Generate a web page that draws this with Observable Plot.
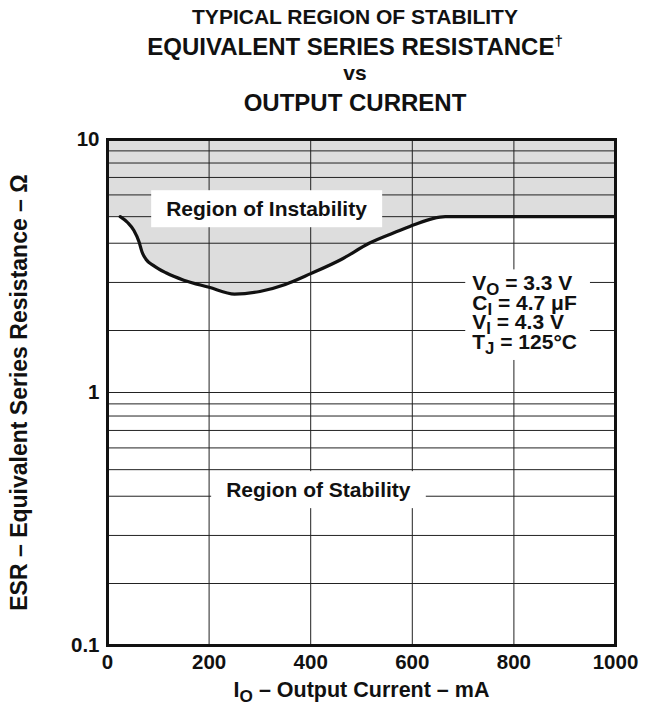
<!DOCTYPE html>
<html>
<head>
<meta charset="utf-8">
<script src="https://cdn.jsdelivr.net/npm/d3@7"></script>
<script src="https://cdn.jsdelivr.net/npm/@observablehq/plot@0.6"></script>
<style>
  html, body { margin: 0; padding: 0; background: #fff; }
  #wrap { position: relative; width: 648px; height: 717px; font-family: "Liberation Sans", Arial, sans-serif; color: #111; }
  .t { position: absolute; left: 0; width: 710px; text-align: center; font-weight: bold; white-space: nowrap; }
  #chart { position: absolute; left: 0; top: 120px; }
</style>
</head>
<body>
<div id="wrap">
  <div class="t" style="top:5px;font-size:21px;line-height:24px">TYPICAL REGION OF STABILITY</div>
  <div class="t" style="top:34px;font-size:24px;line-height:26px">EQUIVALENT SERIES RESISTANCE<span style="position:relative;top:-9px;font-size:15px">†</span></div>
  <div class="t" style="top:61px;font-size:21px;line-height:24px">vs</div>
  <div class="t" style="top:89px;font-size:24px;line-height:28px">OUTPUT CURRENT</div>
  <div id="chart"></div>
</div>
<script>
// ---- data ----
const xDomain = [0, 1000];
const xTicks = [0, 200, 400, 600, 800, 1000];
const xGrid = [200, 400, 600, 800];
const yTicks = [0.1, 1, 10];
// printed log-paper lines of the original graph, and where each one sits
// (fraction of the plot height, measured up from the 0.1 line)
const yGridValues = [0.1, 0.2, 0.3, 0.4, 0.5, 0.6, 0.7, 0.8, 0.9, 1, 2, 3, 4, 5, 6, 7, 8, 9, 10];
const yGridPaper  = [0, 0.1225, 0.2175, 0.295, 0.3475, 0.3905, 0.425, 0.4535, 0.4775, 0.5,
                     0.6225, 0.7175, 0.795, 0.8475, 0.8905, 0.925, 0.9535, 0.9775, 1];

// boundary curve: output current (mA) vs ESR (ohm)
const current = [25, 40, 52, 62, 68, 76, 90, 115, 150, 200, 250, 300, 350, 400, 460, 515, 575, 605, 640, 665, 1000];
const esr     = [5.0, 4.75, 4.45, 4.05, 3.75, 3.55, 3.4, 3.22, 3.05, 2.88, 2.72, 2.78, 2.95, 3.2, 3.55, 4.0, 4.45, 4.68, 4.92, 5.0, 5.0];

const regionLabels = ["Region of Instability", "Region of Stability"];
const regionX = [313, 415];
const regionY = [5.31, 0.42];

const conditionLines = ["V_{O} = 3.3 V", "C_{I} = 4.7 μF", "V_{I} = 4.3 V", "T_{J} = 125°C"];
const conditionX = [718];
const conditionY = [2.31];

const xLabel = "I_{O} – Output Current – mA";
const yLabel = "ESR – Equivalent Series Resistance – Ω";

// ---- helpers ----
const SVGNS = "http://www.w3.org/2000/svg";
const font = "Liberation Sans, Arial, sans-serif";
function addSubscripts(el, doc, shift) {
  const s = el.textContent;
  if (!s.includes("_{")) return;
  while (el.firstChild) el.removeChild(el.firstChild);
  const re = /_\{([^}]*)\}/g;
  let last = 0, m, pending = false;
  while ((m = re.exec(s))) {
    const before = s.slice(last, m.index);
    if (before) {
      const t = doc.createElementNS(SVGNS, "tspan");
      if (pending) { t.setAttribute("dy", -shift); pending = false; }
      t.textContent = before; el.appendChild(t);
    }
    const sub = doc.createElementNS(SVGNS, "tspan");
    sub.setAttribute("dy", shift);
    sub.setAttribute("font-size", "80%");
    sub.textContent = m[1];
    el.appendChild(sub);
    pending = true;
    last = re.lastIndex;
  }
  const rest = s.slice(last);
  const t = doc.createElementNS(SVGNS, "tspan");
  if (pending) t.setAttribute("dy", -shift);
  t.textContent = rest || "\u200b";
  el.appendChild(t);
}
function processSubs(g, doc, shift) {
  g.querySelectorAll("text").forEach((txt) => {
    const lines = txt.querySelectorAll("tspan");
    if (lines.length) lines.forEach((l) => addSubscripts(l, doc, shift));
    else addSubscripts(txt, doc, shift);
  });
}
function subRender(shift) {
  return (index, scales, values, dims, context, next) => {
    const g = next(index, scales, values, dims, context);
    processSubs(g, context.document, shift);
    return g;
  };
}
function boxRender(padL, padR, padY, shift) {
  return (index, scales, values, dims, context, next) => {
    const g = next(index, scales, values, dims, context);
    const doc = context.document;
    processSubs(g, doc, shift);
    const tmp = doc.createElementNS(SVGNS, "svg");
    tmp.setAttribute("width", 648); tmp.setAttribute("height", 717);
    tmp.setAttribute("text-anchor", "middle");
    tmp.setAttribute("font-family", font);
    tmp.setAttribute("font-size", 10);
    tmp.style.position = "absolute"; tmp.style.left = "0"; tmp.style.top = "0"; tmp.style.visibility = "hidden";
    doc.body.appendChild(tmp);
    tmp.appendChild(g);
    g.querySelectorAll("text").forEach((txt) => {
      const bb = txt.getBBox();
      const r = doc.createElementNS(SVGNS, "rect");
      r.setAttribute("x", bb.x - padL);
      r.setAttribute("y", bb.y - padY);
      r.setAttribute("width", bb.width + padL + padR);
      r.setAttribute("height", bb.height + 2 * padY);
      r.setAttribute("fill", "white");
      const tr = txt.getAttribute("transform");
      if (tr) r.setAttribute("transform", tr);
      txt.parentNode.insertBefore(r, txt);
    });
    tmp.remove();
    return g;
  };
}

// ---- chart ----
const W = 648, H = 597, mTop = 19, mBottom = 72;
const yBottom = H - mBottom, yTop = mTop;
const yRange = yGridPaper.map((f) => yBottom - f * (yBottom - yTop));

const curve = current.map((c, i) => ({c, r: esr[i]}));
const fillData = [{c: xDomain[0], r: esr[0]}, ...curve];
const regions = regionLabels.map((t, i) => ({t, x: regionX[i], y: regionY[i]}));
const conditions = [{t: conditionLines.join("\n"), x: conditionX[0], y: conditionY[0]}];
const yGrid = yGridValues.slice(1, -1);

const chart = Plot.plot({
  width: W,
  height: H,
  marginLeft: 107,
  marginRight: 33,
  marginTop: mTop,
  marginBottom: mBottom,
  style: {fontFamily: font, fontSize: "20px", fontWeight: "bold", color: "#111", background: "white", overflow: "visible"},
  x: {domain: xDomain},
  y: {type: "log", domain: yGridValues, range: yRange},
  marks: [
    Plot.areaY(fillData, {x: "c", y1: "r", y2: yGridValues[yGridValues.length - 1], fill: "#dddddd", curve: "monotone-x"}),
    Plot.gridX(xGrid, {stroke: "#222", strokeOpacity: 1, strokeWidth: 1}),
    Plot.gridY(yGrid, {stroke: "#222", strokeOpacity: 1, strokeWidth: 1}),
    Plot.line(curve, {x: "c", y: "r", stroke: "#111", strokeWidth: 3.2, curve: "monotone-x"}),
    Plot.axisX(xTicks, {tickSize: 0, tickPadding: 9, label: null, fontSize: 20.5, fontWeight: "bold", fill: "#111", tickFormat: (d) => String(d)}),
    Plot.axisY(yTicks, {tickSize: 0, tickPadding: 8, label: null, fontSize: 20.5, fontWeight: "bold", fill: "#111", tickFormat: (d) => String(d)}),
    Plot.text(regions, {x: "x", y: "y", text: "t", fontSize: 21, fontWeight: "bold", fontFamily: font, fill: "#111",
      render: boxRender(15, 15, 7, 5)}),
    Plot.text(conditions, {x: "x", y: "y", text: "t", textAnchor: "start", lineHeight: 0.93, fontSize: 21, fontWeight: "bold", fontFamily: font, fill: "#111",
      render: boxRender(7, 13, 2, 5)}),
    Plot.text([xLabel], {frameAnchor: "bottom", dy: 51, fontSize: 21.5, fontWeight: "bold", fontFamily: font, fill: "#111", render: subRender(5)}),
    Plot.text([yLabel], {frameAnchor: "left", textAnchor: "middle", rotate: -90, dx: -88, fontSize: 23, fontWeight: "bold", fontFamily: font, fill: "#111"}),
    Plot.frame({stroke: "#111", strokeWidth: 3})
  ]
});
document.getElementById("chart").appendChild(chart);
</script>
</body>
</html>
